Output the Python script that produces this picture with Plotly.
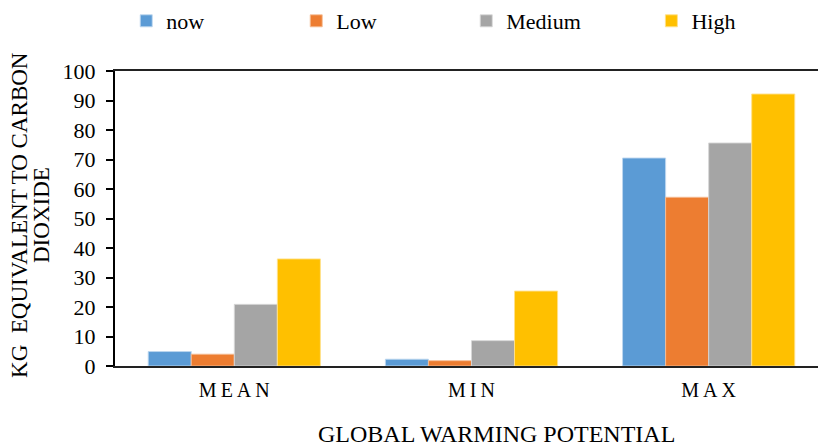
import plotly.graph_objects as go

# Global warming potential per scenario (kg CO2-equivalent)
categories = ["M\u2009E\u2009A\u2009N", "M\u2009I\u2009N", "M\u2009A\u2009X"]
now_vals = [4.9, 2.3, 70.5]
low_vals = [4.0, 1.8, 57.2]
medium_vals = [20.9, 8.6, 75.6]
high_vals = [36.3, 25.4, 92.2]

x_title = "GLOBAL WARMING POTENTIAL"
y_title_lines = ["KG  EQUIVALENT TO CARBON", "DIOXIDE"]

series = [
    ("now", now_vals, "#5B9BD5", "rgba(190,215,240,0.9)", "legend"),
    ("Low", low_vals, "#ED7D31", "rgba(245,190,150,0.9)", "legend"),
    ("Medium", medium_vals, "#A5A5A5", "rgba(215,215,215,0.9)", "legend"),
    ("High", high_vals, "#FFC000", "rgba(255,225,140,0.9)", "legend2"),
]

FONT = "Liberation Serif"

fig = go.Figure()
for name, vals, color, edge, leg in series:
    fig.add_trace(go.Bar(
        name=name,
        x=categories,
        y=vals,
        legend=leg,
        marker=dict(color=color, line=dict(color=edge, width=1)),
    ))

legend_style = dict(
    orientation="h",
    y=1.0, yref="container", yanchor="top",
    font=dict(family=FONT, size=22, color="black"),
    itemwidth=30,
    traceorder="normal",
    bgcolor="rgba(0,0,0,0)",
)

# axis titles placed as rotated / free text around the plot area
fig.add_annotation(text=x_title, xref="paper", yref="paper",
                   x=0.542, y=-0.232, xanchor="center", yanchor="middle",
                   showarrow=False,
                   font=dict(family=FONT, size=24, color="black"))
for i, line in enumerate(y_title_lines):
    fig.add_annotation(text=line, xref="paper", yref="paper",
                       x=-0.1351 + i * 0.0313, y=0.512,
                       xanchor="center", yanchor="middle",
                       textangle=-90, showarrow=False,
                       font=dict(family=FONT, size=23, color="black"))

fig.update_layout(
    width=818,
    height=447,
    margin=dict(l=115, r=0, t=71, b=81, autoexpand=False),
    paper_bgcolor="white",
    plot_bgcolor="white",
    barmode="group",
    bargap=0.274,
    bargroupgap=0,
    font=dict(family=FONT, size=20, color="black"),
    legend=dict(x=0.016, xanchor="left", entrywidth=125, **legend_style),
    legend2=dict(x=0.763, xanchor="left", **legend_style),
    xaxis=dict(
        type="category",
        range=[-0.503, 2.461],
        automargin=False,
        showline=True,
        linecolor="#222222",
        linewidth=2,
        mirror=True,
        ticks="",
        ticklabelstandoff=5,
        showgrid=False,
        tickfont=dict(family=FONT, size=20, color="black"),
    ),
    yaxis=dict(
        range=[0, 100],
        dtick=10,
        automargin=False,
        showline=True,
        linecolor="black",
        linewidth=2,
        ticks="outside",
        ticklen=7,
        tickwidth=2,
        tickcolor="black",
        ticklabelstandoff=6,
        showgrid=False,
        zeroline=False,
        tickfont=dict(family=FONT, size=22, color="black"),
    ),
)

fig.write_html("out.html")
